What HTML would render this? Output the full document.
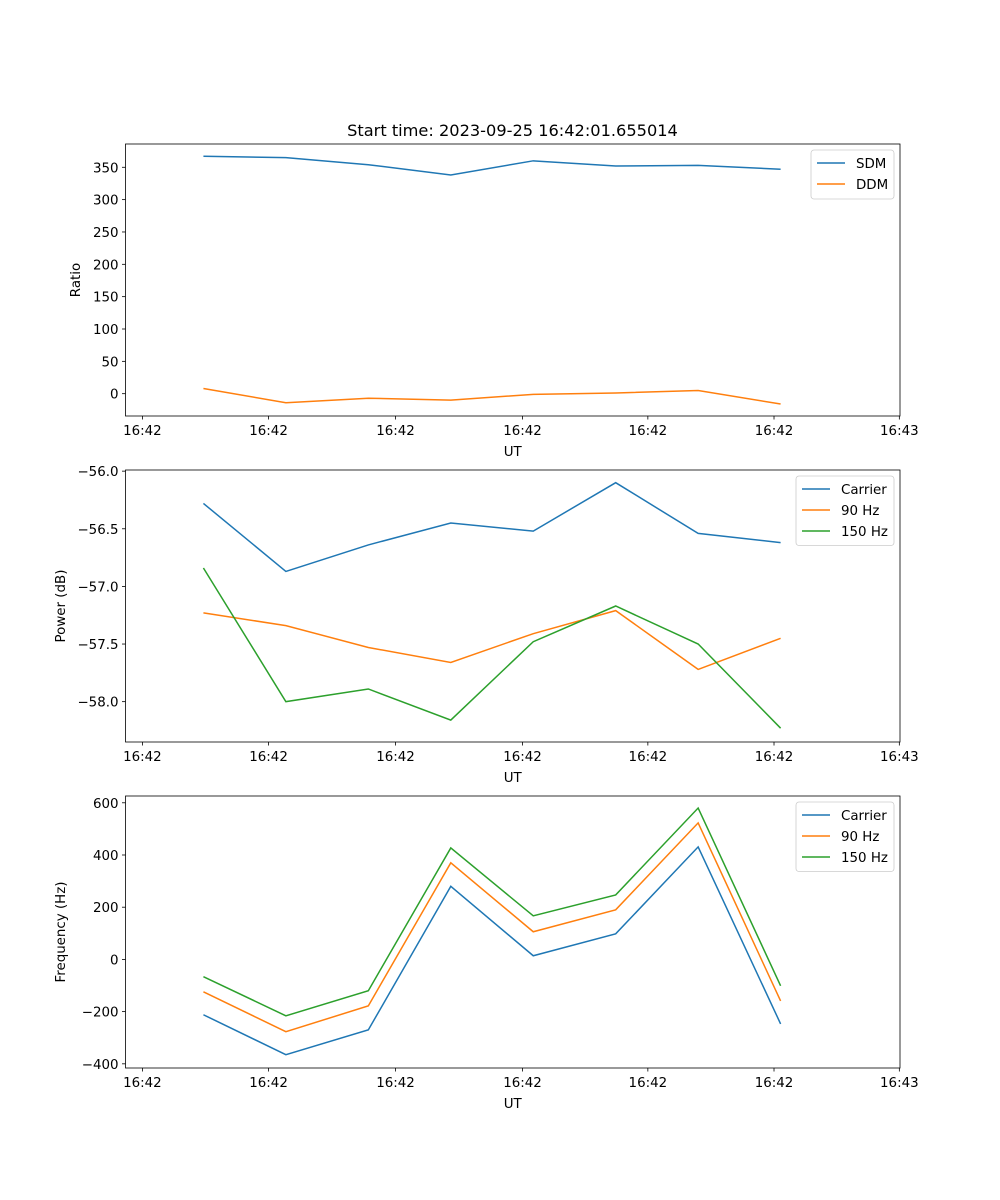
<!DOCTYPE html>
<html><head><meta charset="utf-8"><style>
html,body{margin:0;padding:0;background:#fff}
svg{display:block;font-family:"DejaVu Sans","Liberation Sans",sans-serif}
</style></head><body>
<svg id="fig" width="1000" height="1200"></svg>
<script>
const xIdx = [0,1,2,3,4,5,6,7];
const xTickVals = [-0.74,0.79,2.33,3.87,5.39,6.92,8.44];
const xTickLabels = ["16:42","16:42","16:42","16:42","16:42","16:42","16:43"];
const sdm = [367,365,354,338,360,352,353,347];
const ddm = [8,-14,-7,-10,-1,1,5,-16];
const ratioTicks = [0,50,100,150,200,250,300,350];
const pCarrier = [-56.28,-56.87,-56.64,-56.45,-56.52,-56.10,-56.54,-56.62];
const p90 = [-57.23,-57.34,-57.53,-57.66,-57.41,-57.21,-57.72,-57.45];
const p150 = [-56.84,-58.0,-57.89,-58.16,-57.48,-57.17,-57.50,-58.23];
const powerTicks = [-58.0,-57.5,-57.0,-56.5,-56.0];
const fCarrier = [-212,-365,-270,280,14,98,431,-247];
const f90 = [-124,-277,-178,370,106,190,523,-159];
const f150 = [-66,-216,-120,427,167,247,580,-101];
const freqTicks = [-400,-200,0,200,400,600];

const NS="http://www.w3.org/2000/svg";
const svg=document.getElementById('fig');
function el(t,a,p){const e=document.createElementNS(NS,t);for(const k in a)e.setAttribute(k,a[k]);(p||svg).appendChild(e);return e;}
const L=125.5,R=900,xmin=-0.945,xmax=8.448;
const sx=v=>L+(v-xmin)/(xmax-xmin)*(R-L);
const C=['#1f77b4','#ff7f0e','#2ca02c'];
const FS=13.4;
function panel(name,top,bot,ymin,ymax,ticks,fmt,series,labels,ylabel,legW){
  const g=el('g',{});
  
  
  const sy=v=>bot-(v-ymin)/(ymax-ymin)*(bot-top);
  series.forEach((s,i)=>{
    const pl=el('polyline',{points:s.map((v,j)=>sx(xIdx[j])+','+sy(v)).join(' '),fill:'none',stroke:C[i],'stroke-width':1.5},g);
    
    
  });
  el('rect',{x:L,y:top,width:R-L,height:bot-top,fill:'none',stroke:'#000','stroke-width':0.8},g);
  ticks.forEach(t=>{const y=sy(t);el('line',{x1:L-3.5,x2:L,y1:y,y2:y,stroke:'#000','stroke-width':0.8},g);
    const tx=el('text',{x:L-7,y:y+5,'text-anchor':'end','font-size':FS},g);tx.textContent=fmt(t);
    });
  xTickVals.forEach((t,i)=>{const x=sx(t);el('line',{x1:x,x2:x,y1:bot,y2:bot+3.5,stroke:'#000','stroke-width':0.8},g);
    const tx=el('text',{x:x,y:bot+19,'text-anchor':'middle','font-size':FS},g);tx.textContent=xTickLabels[i];
    });
  const xl=el('text',{x:(L+R)/2,y:bot+40,'text-anchor':'middle','font-size':FS},g);xl.textContent='UT';
  
  const yc=(top+bot)/2;
  const yl=el('text',{x:0,y:0,'text-anchor':'middle','font-size':FS,transform:`translate(${name==='ratio'?80:65},${yc}) rotate(-90)`},g);yl.textContent=ylabel;
  
  const lx=R-6-legW,ly=top+6,lh=8+labels.length*20.5;
  const lg=el('g',{},g);
  el('rect',{x:lx,y:ly,width:legW,height:lh,rx:3,fill:'#fff','fill-opacity':0.8,stroke:'#ccc','stroke-width':0.8},lg);
  labels.forEach((lb,i)=>{const y=ly+13+i*21;
    el('line',{x1:lx+6,x2:lx+34,y1:y,y2:y,stroke:C[i],'stroke-width':1.5},lg);
    const t=el('text',{x:lx+45,y:y+5,'font-size':FS},lg);t.textContent=lb;
    });
}
const minus=s=>s.replace('-','\u2212');
panel('ratio',144,416,-34.5,386,ratioTicks,t=>minus(String(t)),[sdm,ddm],['SDM','DDM'],'Ratio',83);
panel('power',470,742,-58.35,-55.99,powerTicks,t=>minus(t.toFixed(1)),[pCarrier,p90,p150],['Carrier','90 Hz','150 Hz'],'Power (dB)',98);
panel('freq',796,1068,-416,626,freqTicks,t=>minus(String(t)),[fCarrier,f90,f150],['Carrier','90 Hz','150 Hz'],'Frequency (Hz)',98);
const title=el('text',{x:512.5,y:136,'text-anchor':'middle','font-size':16.2});
title.textContent='Start time: 2023-09-25 16:42:01.655014';


</script>
</body></html>
